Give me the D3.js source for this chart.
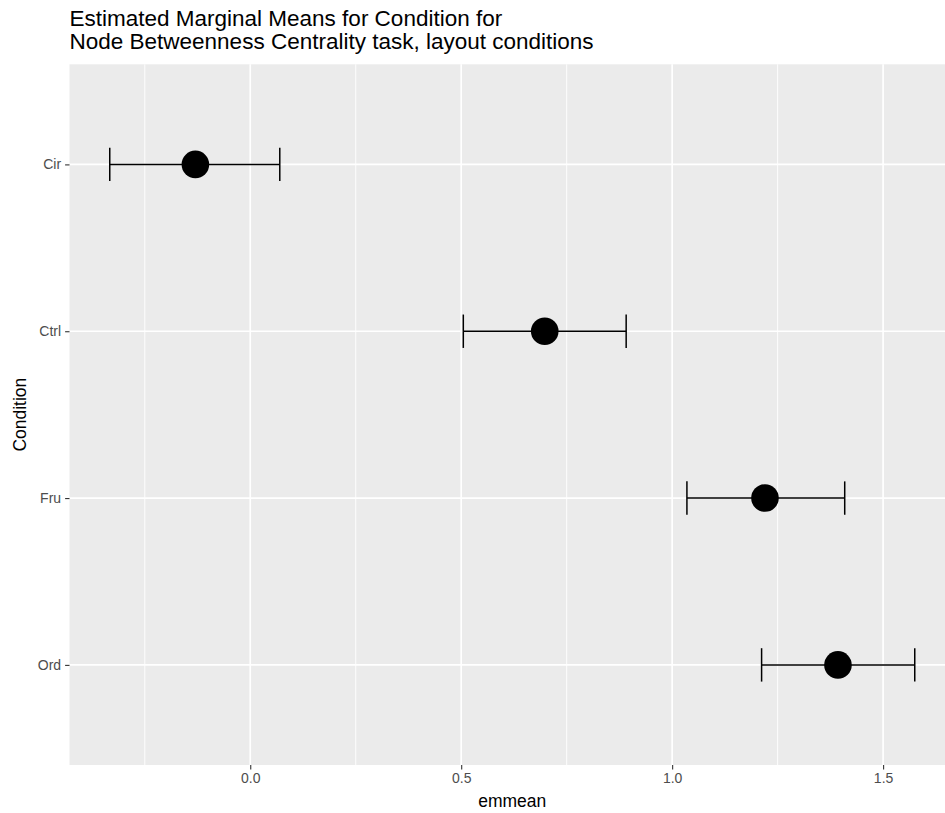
<!DOCTYPE html>
<html>
<head>
<meta charset="utf-8">
<script src="https://cdn.jsdelivr.net/npm/d3@7"></script>
<style>
  html, body { margin: 0; padding: 0; background: #fff; }
  svg { display: block; }
  text { font-family: "Liberation Sans", Arial, Helvetica, sans-serif; }
</style>
</head>
<body>
<svg id="chart" width="945" height="813"></svg>
<script>
// ---- Data ----
const categories = ["Cir", "Ctrl", "Fru", "Ord"];
const emmean     = [-0.130, 0.698, 1.220, 1.393];
const lowerCL    = [-0.333, 0.505, 1.035, 1.212];
const upperCL    = [ 0.070, 0.891, 1.409, 1.575];
const xTicks     = [0.0, 0.5, 1.0, 1.5];
const xMinor     = [-0.25, 0.25, 0.75, 1.25];
const titleLines = ["Estimated Marginal Means for Condition for",
                    "Node Betweenness Centrality task, layout conditions"];
const xTitle = "emmean";
const yTitle = "Condition";

// ---- Layout ----
const svg = d3.select("#chart");
const panel = { left: 69.5, top: 64.3, right: 955, bottom: 765 };

const lo = d3.min(lowerCL), hi = d3.max(upperCL);
const pad = (hi - lo) * 0.05;
const x = d3.scaleLinear().domain([lo - pad, hi + pad]).range([panel.left, panel.right]);

const step = (panel.bottom - panel.top) / (categories.length - 1 + 1.2);
const y = d3.scalePoint().domain(categories)
  .range([panel.top + 0.6 * step, panel.bottom - 0.6 * step]);

// Panel background
svg.append("rect")
  .attr("x", panel.left).attr("y", panel.top)
  .attr("width", panel.right - panel.left).attr("height", panel.bottom - panel.top)
  .attr("fill", "#ebebeb");

// Minor grid
svg.append("g").selectAll("line").data(xMinor).join("line")
  .attr("x1", d => x(d)).attr("x2", d => x(d))
  .attr("y1", panel.top).attr("y2", panel.bottom)
  .attr("stroke", "#fff").attr("stroke-width", 0.9);

// Major grid
svg.append("g").selectAll("line").data(xTicks).join("line")
  .attr("x1", d => x(d)).attr("x2", d => x(d))
  .attr("y1", panel.top).attr("y2", panel.bottom)
  .attr("stroke", "#fff").attr("stroke-width", 1.7);
svg.append("g").selectAll("line").data(categories).join("line")
  .attr("x1", panel.left).attr("x2", panel.right)
  .attr("y1", d => y(d)).attr("y2", d => y(d))
  .attr("stroke", "#fff").attr("stroke-width", 1.7);

// X axis
const xAxis = svg.append("g")
  .attr("transform", `translate(0,${panel.bottom})`)
  .call(d3.axisBottom(x).tickValues(xTicks).tickFormat(d3.format(".1f")).tickSizeOuter(0).tickSize(4.4).tickPadding(4));
xAxis.select(".domain").remove();
xAxis.selectAll(".tick line").attr("stroke", "#333").attr("stroke-width", 1.1);
xAxis.selectAll(".tick text").attr("fill", "#4d4d4d").attr("font-size", "14px")
  .style("font-family", "'Liberation Sans', Arial, sans-serif");

// Y axis
const yAxis = svg.append("g")
  .attr("transform", `translate(${panel.left},0)`)
  .call(d3.axisLeft(y).tickSizeOuter(0).tickSize(4.4).tickPadding(4));
yAxis.select(".domain").remove();
yAxis.selectAll(".tick line").attr("stroke", "#333").attr("stroke-width", 1.1);
yAxis.selectAll(".tick text").attr("fill", "#4d4d4d").attr("font-size", "14px")
  .style("font-family", "'Liberation Sans', Arial, sans-serif");

// Error bars
const rows = categories.map((c, i) => ({ c, m: emmean[i], l: lowerCL[i], u: upperCL[i] }));
const eb = svg.append("g").attr("stroke", "#000").attr("stroke-width", 1.5).attr("fill", "none");
eb.selectAll("line.h").data(rows).join("line").attr("class", "h")
  .attr("x1", d => x(d.l)).attr("x2", d => x(d.u))
  .attr("y1", d => y(d.c)).attr("y2", d => y(d.c));
eb.selectAll("line.l").data(rows).join("line").attr("class", "l")
  .attr("x1", d => x(d.l)).attr("x2", d => x(d.l))
  .attr("y1", d => y(d.c) - 16.7).attr("y2", d => y(d.c) + 16.7);
eb.selectAll("line.u").data(rows).join("line").attr("class", "u")
  .attr("x1", d => x(d.u)).attr("x2", d => x(d.u))
  .attr("y1", d => y(d.c) - 16.7).attr("y2", d => y(d.c) + 16.7);

// Points
svg.append("g").selectAll("circle").data(rows).join("circle")
  .attr("cx", d => x(d.m)).attr("cy", d => y(d.c)).attr("r", 13.8)
  .attr("fill", "#000");

// Title
svg.append("g").selectAll("text").data(titleLines).join("text")
  .attr("x", panel.left).attr("y", (d, i) => 25.5 + i * 23)
  .attr("font-size", "22.5px").attr("fill", "#000")
  .text(d => d);

// Axis titles
svg.append("text")
  .attr("x", (panel.left + panel.right) / 2).attr("y", 807)
  .attr("text-anchor", "middle").attr("font-size", "17.5px").attr("fill", "#000")
  .text(xTitle);
svg.append("text")
  .attr("transform", `translate(26,${(panel.top + panel.bottom) / 2}) rotate(-90)`)
  .attr("text-anchor", "middle").attr("font-size", "17.5px").attr("fill", "#000")
  .text(yTitle);
</script>
</body>
</html>
